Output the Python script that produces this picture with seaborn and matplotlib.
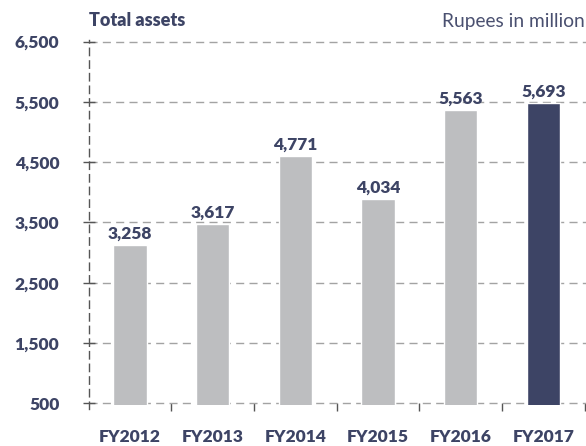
import matplotlib
matplotlib.use("Agg")
import matplotlib.pyplot as plt
import seaborn as sns
import pandas as pd
from matplotlib.ticker import FixedLocator, NullFormatter

# ---- data ----
years = ["FY2012", "FY2013", "FY2014", "FY2015", "FY2016", "FY2017"]
total_assets = [3258, 3617, 4771, 4034, 5563, 5693]
value_labels = ["3,258", "3,617", "4,771", "4,034", "5,563", "5,693"]
ytick_values = [500, 1500, 2500, 3500, 4500, 5500, 6500]
ytick_labels = ["500", "1,500", "2,500", "3,500", "4,500", "5,500", "6,500"]
title_left = "Total assets"
title_right = "Rupees in million"

GRAY = "#bdbec0"
NAVY = "#3d4465"
bar_colors = [GRAY, GRAY, GRAY, GRAY, GRAY, NAVY]

sns.set_theme(style="white")
plt.rcParams["font.family"] = ["Lato", "DejaVu Sans"]
BOLD = "heavy"

W, H = 586, 446
fig = plt.figure(figsize=(W / 100, H / 100), dpi=100)

def frac(left, top, right, bottom):
    return [left / W, 1 - bottom / H, (right - left) / W, (bottom - top) / H]

# grid / axis frame
ax = fig.add_axes(frac(88.5, 40, 586, 409))
# bar axes (bars rest on a 500 baseline)
axb = fig.add_axes(frac(88.5, 40, 586, 405.3))
axb.patch.set_visible(False)

xmax = 5.5 + 1.3 / 82.7
for a in (ax, axb):
    a.set_xlim(-0.5, xmax)

ax.set_ylim(405, 6528)
axb.set_ylim(500, 6769)

df = pd.DataFrame({"year": years, "value": total_assets})
sns.barplot(data=df, x="year", y="value", hue="year", palette=bar_colors,
            order=years, hue_order=years, width=0.405, legend=False,
            saturation=1, ax=axb, zorder=3)
axb.set_xlim(-0.5, xmax)
axb.set_ylim(500, 6769)
axb.axis("off")

for patch, lab in zip(axb.patches, value_labels):
    axb.annotate(lab, (patch.get_x() + patch.get_width() / 2, patch.get_height()),
                 xytext=(0, 4.5), textcoords="offset points",
                 ha="center", va="baseline", fontsize=12.5, fontweight=BOLD,
                 color=NAVY, annotation_clip=False)

# gridlines
ax.yaxis.set_major_locator(FixedLocator(ytick_values))
ax.set_yticklabels(ytick_labels)
ax.grid(axis="y", color="#a3a3a3", linewidth=1.0, linestyle=(0, (5.8, 3.8)))
ax.grid(axis="x", visible=False)
ax.set_axisbelow(True)

for s in ("top", "right"):
    ax.spines[s].set_visible(False)
ax.spines["left"].set_linestyle((0, (5.3, 3.8)))
ax.spines["left"].set_color("#555555")
ax.spines["left"].set_linewidth(1.0)
ax.spines["bottom"].set_position(("data", 500))
ax.spines["bottom"].set_visible(False)

ax.tick_params(axis="y", direction="inout", length=8, width=1.0, color="#555555",
               pad=17, labelsize=12.5, labelcolor=NAVY, left=True)
for t in ax.get_yticklabels():
    t.set_fontweight(BOLD)

# x: boundary ticks (major) and category labels (minor)
ax.xaxis.set_major_locator(FixedLocator([i + 0.5 for i in range(len(years))]))
ax.xaxis.set_major_formatter(NullFormatter())
ax.xaxis.set_minor_locator(FixedLocator(list(range(len(years)))))
ax.set_xticklabels(years, minor=True)
ax.tick_params(axis="x", which="major", direction="out", length=5.5, width=1.0,
               color="#555555", bottom=True)
ax.tick_params(axis="x", which="minor", length=0, pad=18.5, labelsize=12.5,
               labelcolor=NAVY, bottom=True)
for t in ax.get_xticklabels(minor=True):
    t.set_fontweight(BOLD)
ax.set_xlabel("")
ax.set_ylabel("")

fig.text(89 / W, 1 - 21 / H, title_left, ha="left", va="center",
         fontsize=13, fontweight=BOLD, color=NAVY)
fig.text(585 / W, 1 - 21 / H, title_right, ha="right", va="center",
         fontsize=13.8, color="#4a5070")

fig.savefig("out.png", dpi=100)
